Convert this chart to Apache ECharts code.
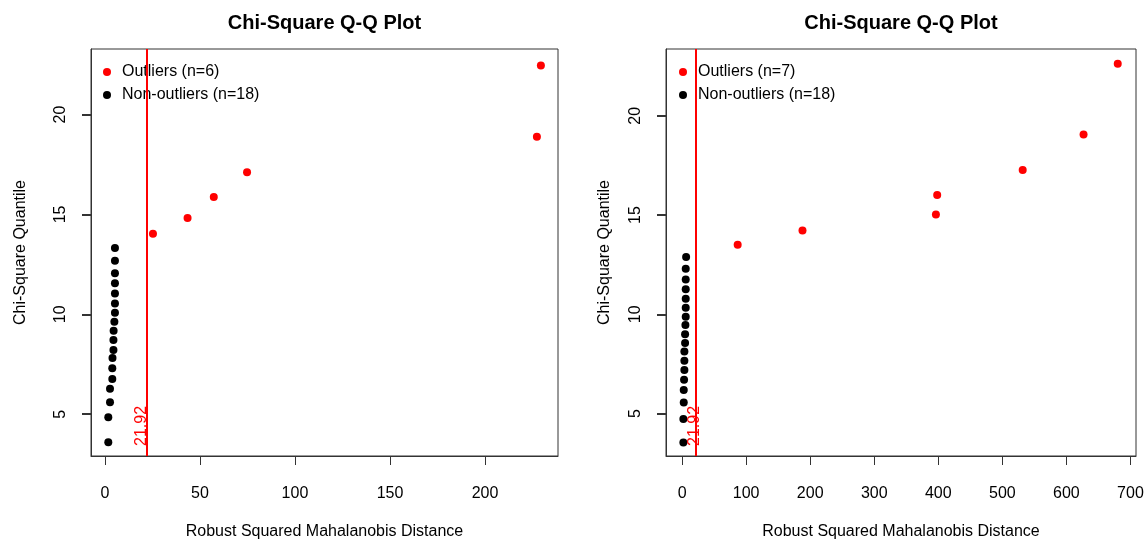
<!DOCTYPE html>
<html>
<head>
<meta charset="utf-8">
<script src="https://cdn.jsdelivr.net/npm/echarts@6/dist/echarts.min.js"></script>
<style>html,body{margin:0;padding:0;background:#fff}#c{width:1145px;height:540px}</style>
</head>
<body>
<div id="c"></div>
<script>
// ---- data ----
var cutoff = 21.92;
var leftNonX = [1.8, 1.8, 2.7, 2.7, 3.9, 3.9, 4.0, 4.5, 4.5, 4.6, 5.0, 5.3, 5.3, 5.3, 5.3, 5.3, 5.3, 5.3];
var leftNonY = [3.60, 4.85, 5.60, 6.27, 6.77, 7.30, 7.81, 8.22, 8.71, 9.18, 9.63, 10.08, 10.54, 11.04, 11.55, 12.06, 12.68, 13.32];
var leftOutX = [25.3, 43.5, 57.3, 74.8, 227.3, 229.4];
var leftOutY = [14.03, 14.82, 15.87, 17.11, 18.89, 22.45];
var rightNonX = [2.0, 2.0, 2.6, 2.6, 3.1, 3.6, 3.6, 3.6, 4.7, 4.7, 5.2, 5.7, 5.7, 5.7, 5.7, 5.7, 5.7, 6.3];
var rightNonY = [3.54, 4.73, 5.56, 6.18, 6.70, 7.19, 7.66, 8.13, 8.55, 9.00, 9.46, 9.88, 10.33, 10.79, 11.26, 11.75, 12.29, 12.89];
var rightOutX = [86.8, 188.0, 396.3, 398.3, 531.8, 626.8, 680.2];
var rightOutY = [13.50, 14.22, 15.03, 16.01, 17.27, 19.06, 22.63];
var leftXTicks = [0, 50, 100, 150, 200];
var rightXTicks = [0, 100, 200, 300, 400, 500, 600, 700];
var yTicks = [5, 10, 15, 20];
var titleText = 'Chi-Square Q-Q Plot';
var xName = 'Robust Squared Mahalanobis Distance';
var yName = 'Chi-Square Quantile';

function pairs(xs, ys) { return xs.map(function (x, i) { return [x, ys[i]]; }); }

var FONT = "'Liberation Sans', Arial, Helvetica, sans-serif";
var AXC = '#333';
var TICK = 9;

function xAxisCfg(idx, min, max, ticks) {
  return {
    type: 'value', gridIndex: idx, min: min, max: max, position: 'bottom',
    name: xName, nameLocation: 'middle', nameGap: 68,
    nameTextStyle: { fontFamily: FONT, fontSize: 16, color: '#000' },
    axisLine: { show: true, onZero: false, lineStyle: { color: AXC, width: 1 } },
    axisTick: { show: true, length: TICK, inside: false, customValues: ticks, lineStyle: { color: AXC, width: 1 } },
    axisLabel: { customValues: ticks, fontFamily: FONT, fontSize: 16, color: '#000', margin: 30 },
    splitLine: { show: false }
  };
}
function yAxisCfg(idx, min, max, gap) {
  return {
    type: 'value', gridIndex: idx, min: min, max: max, position: 'left',
    name: yName, nameLocation: 'middle', nameGap: gap, nameRotate: 90,
    nameTextStyle: { fontFamily: FONT, fontSize: 16, color: '#000' },
    axisLine: { show: true, onZero: false, lineStyle: { color: AXC, width: 1 } },
    axisTick: { show: true, length: TICK, inside: false, customValues: yTicks, lineStyle: { color: AXC, width: 2 } },
    axisLabel: { customValues: yTicks, rotate: 90, fontFamily: FONT, fontSize: 16, color: '#000', margin: 22 },
    splitLine: { show: false }
  };
}
function cutLine(perp) {
  return {
    silent: true, symbol: 'none', animation: false,
    lineStyle: { color: '#ff0000', width: 2, type: 'solid' },
    label: { show: true, position: 'insideStartTop', formatter: String(cutoff), color: '#ff0000',
      fontFamily: FONT, fontSize: 16, distance: [10, perp] },
    data: [{ xAxis: cutoff }]
  };
}

var chart = echarts.init(document.getElementById('c'), null, { renderer: 'canvas' });
chart.setOption({
  animation: false,
  backgroundColor: '#fff',
  title: [
    { text: titleText, left: 324.5, top: 13, textAlign: 'center', padding: 0,
      textStyle: { fontFamily: FONT, fontSize: 20, fontWeight: 'bold', color: '#000' } },
    { text: titleText, left: 901, top: 13, textAlign: 'center', padding: 0,
      textStyle: { fontFamily: FONT, fontSize: 20, fontWeight: 'bold', color: '#000' } }
  ],
  grid: [
    { left: 91, right: 587, top: 49, bottom: 84, show: true, borderColor: AXC, borderWidth: 1,
      containLabel: false, outerBoundsMode: 'none' },
    { left: 666, right: 9, top: 49, bottom: 84, show: true, borderColor: AXC, borderWidth: 1,
      containLabel: false, outerBoundsMode: 'none' }
  ],
  legend: [
    { orient: 'vertical', left: 103, top: 64, padding: 0, itemWidth: 20, itemHeight: 8, itemGap: 7,
      icon: 'circle', data: ['Outliers (n=6)', 'Non-outliers (n=18)'], selectedMode: false,
      textStyle: { fontFamily: FONT, fontSize: 16, color: '#000', lineHeight: 16 } },
    { orient: 'vertical', left: 679, top: 64, padding: 0, itemWidth: 20, itemHeight: 8, itemGap: 7,
      icon: 'circle', data: ['Outliers (n=7)', 'Non-outliers (n=18) '], selectedMode: false,
      textStyle: { fontFamily: FONT, fontSize: 16, color: '#000', lineHeight: 16 } }
  ],
  xAxis: [xAxisCfg(0, -7.3, 238.4, leftXTicks), xAxisCfg(1, -25.1, 708.7, rightXTicks)],
  yAxis: [yAxisCfg(0, 2.91, 23.28, 62), yAxisCfg(1, 2.86, 23.37, 53)],
  series: [
    { name: 'Non-outliers (n=18)', type: 'scatter', xAxisIndex: 0, yAxisIndex: 0, symbolSize: 8,
      itemStyle: { color: '#000', opacity: 1 }, data: pairs(leftNonX, leftNonY) },
    { name: 'Outliers (n=6)', type: 'scatter', xAxisIndex: 0, yAxisIndex: 0, symbolSize: 8,
      itemStyle: { color: '#ff0000', opacity: 1 }, data: pairs(leftOutX, leftOutY), markLine: cutLine(-3) },
    { name: 'Non-outliers (n=18) ', type: 'scatter', xAxisIndex: 1, yAxisIndex: 1, symbolSize: 8,
      itemStyle: { color: '#000', opacity: 1 }, data: pairs(rightNonX, rightNonY) },
    { name: 'Outliers (n=7)', type: 'scatter', xAxisIndex: 1, yAxisIndex: 1, symbolSize: 8,
      itemStyle: { color: '#ff0000', opacity: 1 }, data: pairs(rightOutX, rightOutY), markLine: cutLine(-6) }
  ]
});
</script>
</body>
</html>
